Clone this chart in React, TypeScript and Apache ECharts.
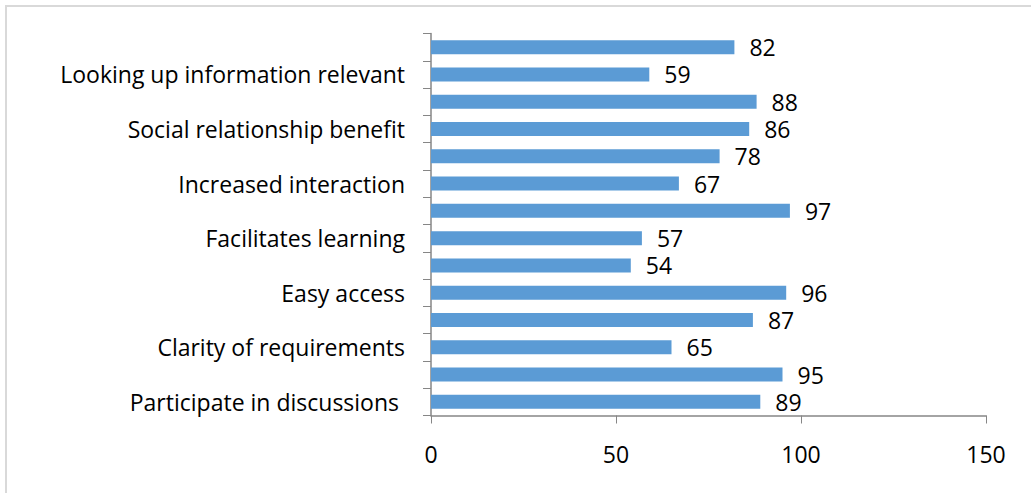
import React, { useEffect, useRef } from "react";
import * as echarts from "echarts";

const categories = [
  "Participate in discussions ",
  "",
  "Clarity of requirements",
  "",
  "Easy access",
  "",
  "Facilitates learning",
  "",
  "Increased interaction",
  "",
  "Social relationship benefit",
  "",
  "Looking up information relevant",
  "",
];
const values = [89, 95, 65, 87, 96, 54, 57, 97, 67, 78, 86, 88, 59, 82];
const xMin = 0;
const xMax = 150;
const xInterval = 50;

const FONT = "'Open Sans', Lato, sans-serif";
const FONT_SIZE = 23;
const AXIS_COLOR = "#868686";

export default function App() {
  const ref = useRef<HTMLDivElement>(null);
  useEffect(() => {
    if (!ref.current) return;
    const chart = echarts.init(ref.current, undefined, { renderer: "svg" });
    chart.setOption({
      animation: false,
      backgroundColor: "#ffffff",
      textStyle: { fontFamily: FONT },
      graphic: [
        {
          type: "rect",
          shape: { x: 6, y: 6, width: 1100, height: 600 },
          style: { fill: "none", stroke: "#D9D9D9", lineWidth: 2 },
          silent: true,
        },
      ],
      grid: { left: 431, top: 33.5, right: 45, bottom: 77.5, containLabel: false },
      xAxis: {
        type: "value",
        min: xMin,
        max: xMax,
        interval: xInterval,
        splitLine: { show: false },
        axisLine: { show: true, lineStyle: { color: AXIS_COLOR, width: 1.5 } },
        axisTick: { show: true, length: 8, lineStyle: { color: AXIS_COLOR, width: 1 } },
        axisLabel: {
          color: "#000",
          fontFamily: FONT,
          fontSize: FONT_SIZE,
          margin: 27,
        },
      },
      yAxis: {
        type: "category",
        data: categories,
        axisLine: { show: true, lineStyle: { color: AXIS_COLOR, width: 1.5 } },
        axisTick: { show: true, length: 8, lineStyle: { color: AXIS_COLOR, width: 1 } },
        axisLabel: {
          color: "#000",
          fontFamily: FONT,
          fontSize: FONT_SIZE,
          margin: 26,
          interval: 0,
        },
      },
      series: [
        {
          type: "bar",
          data: values,
          barWidth: 14,
          itemStyle: { color: "#5B9BD5" },
          label: {
            show: true,
            position: "right",
            distance: 15,
            color: "#000",
            fontFamily: FONT,
            fontSize: FONT_SIZE,
            lineHeight: 24,
          },
        },
      ],
    });
    return () => chart.dispose();
  }, []);
  return (
    <div
      ref={ref}
      style={{ position: "fixed", left: 0, top: 0, width: 1031, height: 493 }}
    />
  );
}
